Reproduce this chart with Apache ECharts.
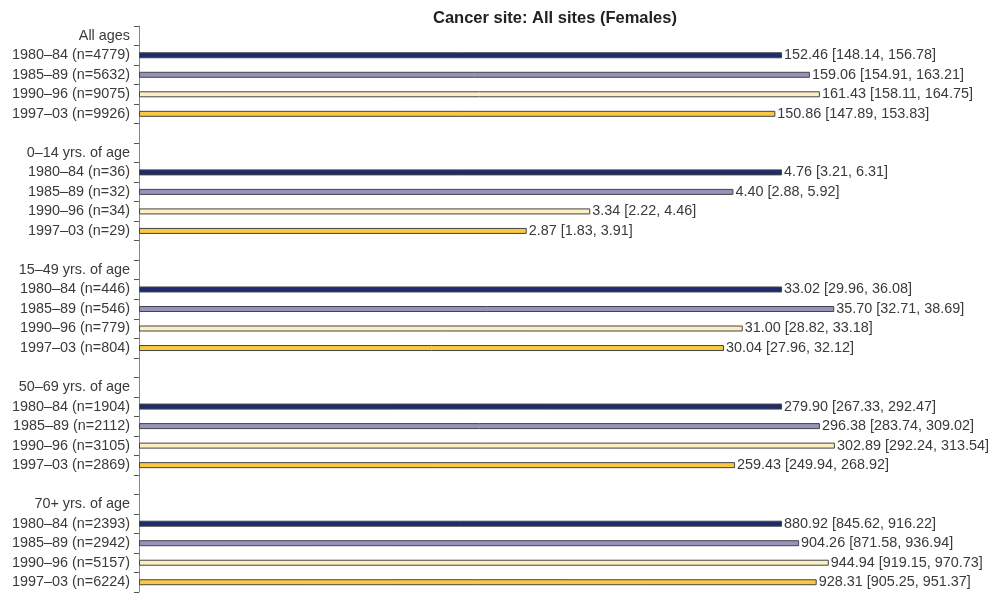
<!DOCTYPE html>
<html>
<head>
<meta charset="utf-8">
<script src="https://cdn.jsdelivr.net/npm/echarts@6/dist/echarts.min.js"></script>
<style>
  html, body { margin: 0; padding: 0; background: #fff; }
  #chart { width: 992px; height: 594px; }
</style>
</head>
<body>
<div id="chart"></div>
<script>
// 数据
var groups = ['All ages', '0–14 yrs. of age', '15–49 yrs. of age', '50–69 yrs. of age', '70+ yrs. of age'];
var periods = ['1980–84', '1985–89', '1990–96', '1997–03'];
var counts = [
  [4779, 5632, 9075, 9926],
  [36, 32, 34, 29],
  [446, 546, 779, 804],
  [1904, 2112, 3105, 2869],
  [2393, 2942, 5157, 6224]
];
var rates = [
  [152.46, 159.06, 161.43, 150.86],
  [4.76, 4.40, 3.34, 2.87],
  [33.02, 35.70, 31.00, 30.04],
  [279.90, 296.38, 302.89, 259.43],
  [880.92, 904.26, 944.94, 928.31]
];
var lower = [
  [148.14, 154.91, 158.11, 147.89],
  [3.21, 2.88, 2.22, 1.83],
  [29.96, 32.71, 28.82, 27.96],
  [267.33, 283.74, 292.24, 249.94],
  [845.62, 871.58, 919.15, 905.25]
];
var upper = [
  [156.78, 163.21, 164.75, 153.83],
  [6.31, 5.92, 4.46, 3.91],
  [36.08, 38.69, 33.18, 32.12],
  [292.47, 309.02, 313.54, 268.92],
  [916.22, 936.94, 970.73, 951.37]
];
var colors = ['#1f2c6b', '#9393bd', '#fdeec4', '#f8c83e'];

// 分类 + 数据（每组按 1980–84 归一化）
var cats = [];
var seriesData = [];
var labelText = [];
groups.forEach(function (g, gi) {
  if (gi > 0) {
    cats.push('');
    seriesData.push('-');
    labelText.push('');
  }
  cats.push(g);
  seriesData.push('-');
  labelText.push('');
  periods.forEach(function (p, pi) {
    cats.push(p + ' (n=' + counts[gi][pi] + ')');
    seriesData.push({
      value: rates[gi][pi] / rates[gi][0],
      itemStyle: { color: colors[pi] }
    });
    labelText.push(rates[gi][pi].toFixed(2) + ' [' + lower[gi][pi].toFixed(2) + ', ' + upper[gi][pi].toFixed(2) + ']');
  });
});

var chart = echarts.init(document.getElementById('chart'));
var option = {
  animation: false,
  textStyle: { fontFamily: 'Liberation Sans, Arial, sans-serif' },
  title: {
    text: 'Cancer site: All sites (Females)',
    left: 428,
    top: 5,
    textStyle: { fontSize: 16.5, fontWeight: 'bold', color: '#222' }
  },
  grid: { left: 139, width: 836, top: 26, height: 566 },
  xAxis: {
    type: 'value',
    min: 0,
    max: 1.3,
    show: false
  },
  yAxis: {
    type: 'category',
    inverse: true,
    data: cats,
    axisLine: { lineStyle: { color: '#888', width: 1 } },
    axisTick: { show: true, length: 5, lineStyle: { color: '#555' } },
    axisLabel: { interval: 0, fontSize: 14.4, color: '#3a3a3a', margin: 9 }
  },
  series: [
    {
      type: 'bar',
      data: seriesData,
      barWidth: 6,
      itemStyle: { borderColor: '#444', borderWidth: 1 },
      label: {
        show: true,
        position: 'right',
        distance: 2,
        fontSize: 14.4,
        color: '#3a3a3a',
        formatter: function (p) { return labelText[p.dataIndex]; }
      }
    }
  ]
};
chart.setOption(option);
</script>
</body>
</html>
